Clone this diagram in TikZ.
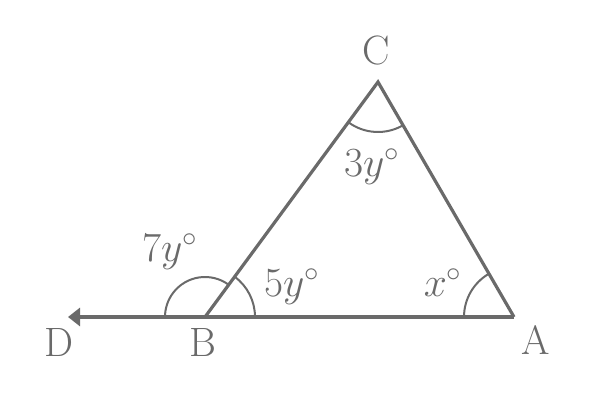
\documentclass[tikz,border=0pt]{standalone}
\usetikzlibrary{arrows.meta}
\definecolor{linegray}{HTML}{6A6A6A}
\begin{document}
\begin{tikzpicture}[
  x=0.5pt, y=0.5pt,
  side/.style = {draw=linegray, line width=1.6pt},
  ang/.style  = {draw=linegray, line width=1pt},
  lbl/.style  = {text=linegray, font=\fontsize{20.5}{24}\selectfont, inner sep=0pt, anchor=base},
  ]
  \useasboundingbox (0,0) rectangle (600,400);

  % Points
  \coordinate (A) at (514,83);
  \coordinate (B) at (205,83);
  \coordinate (C) at (378,318);
  \coordinate (D) at (68,83);

  % Sides
  \draw[side, -{Triangle[length=6pt, width=9pt]}] (A) -- (D);
  \draw[side, line join=miter] (B) -- (C) -- (A);

  % Angle marks
  \draw[ang] ([shift={(0:50)}]B) arc[start angle=0, end angle=53.6, radius=50];
  \draw[ang] ([shift={(53.6:40)}]B) arc[start angle=53.6, end angle=180, radius=40];
  \draw[ang] ([shift={(120.1:50)}]A) arc[start angle=120.1, end angle=180, radius=50];
  \draw[ang] ([shift={(233.6:50)}]C) arc[start angle=233.6, end angle=300.1, radius=50];

  % Labels
  \node (lC) at (376,335) [lbl] {C};
  \node (lD) at (59,43)   [lbl] {D};
  \node (lB) at (203,43)  [lbl] {B};
  \node (lA) at (536,45)  [lbl] {A};
  \node (aC) at (372,223) [lbl] {$3y^\circ$};
  \node (aA) at (443,103) [lbl] {$x^\circ$};
  \node (aB) at (292,103) [lbl] {$5y^\circ$};
  \node (aD) at (170,138) [lbl] {$7y^\circ$};
\end{tikzpicture}
\end{document}
